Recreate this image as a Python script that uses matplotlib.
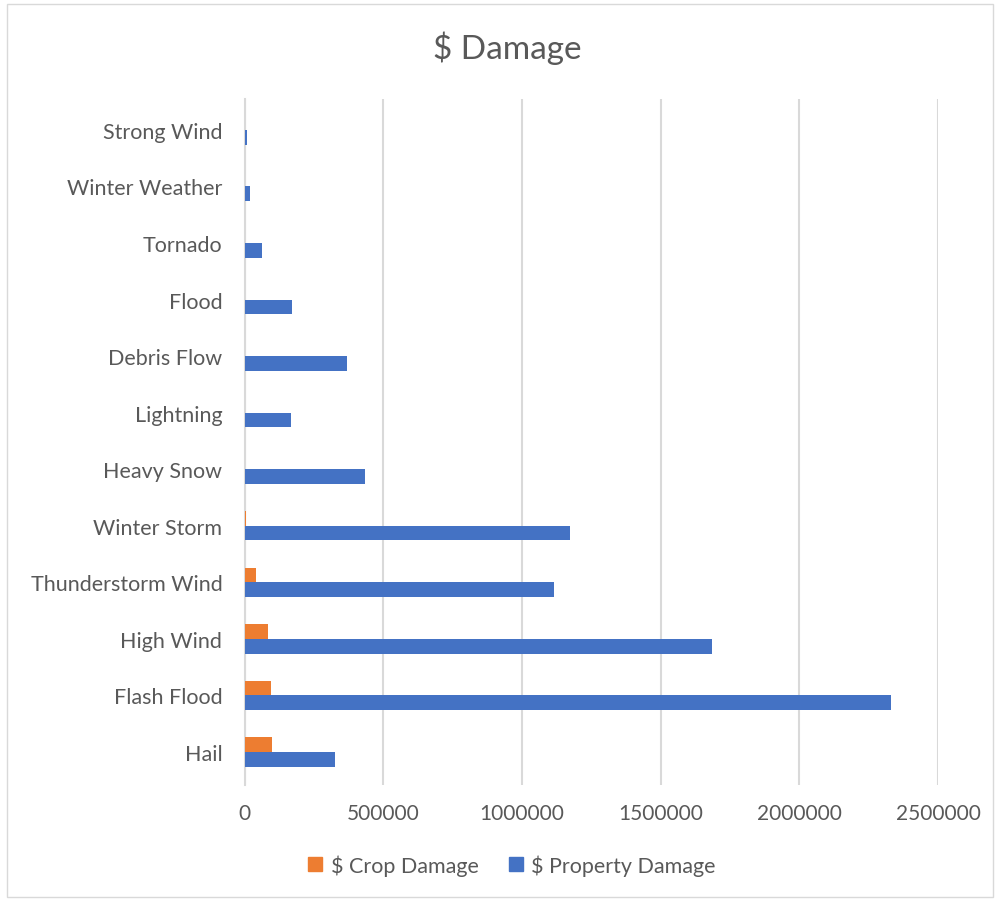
import matplotlib.pyplot as plt
import matplotlib.patches as mpatches
import numpy as np

# --- Data ---
CATEGORIES = [
    "Hail", "Flash Flood", "High Wind", "Thunderstorm Wind", "Winter Storm",
    "Heavy Snow", "Lightning", "Debris Flow", "Flood", "Tornado",
    "Winter Weather", "Strong Wind",
]
CROP_DAMAGE = [99000, 97000, 84000, 40000, 6000, 0, 0, 0, 0, 0, 0, 0]
PROPERTY_DAMAGE = [327000, 2330000, 1686000, 1116000, 1172000, 433000,
                   166000, 371000, 170000, 63000, 20000, 10000]
X_TICKS = [0, 500000, 1000000, 1500000, 2000000, 2500000]

ORANGE = "#ED7D31"
BLUE = "#4472C4"
TEXT = "#595959"
GRID = "#D9D9D9"

plt.rcParams["font.family"] = ["Lato", "DejaVu Sans"]

fig = plt.figure(figsize=(9.98, 9.03), dpi=100)
ax = fig.add_axes([0.245, 0.1296, 0.695, 0.7597])

y = np.arange(len(CATEGORIES))
h = 0.26
ax.barh(y + h / 2, CROP_DAMAGE, height=h, color=ORANGE, label="$ Crop Damage", zorder=3)
ax.barh(y - h / 2, PROPERTY_DAMAGE, height=h, color=BLUE, label="$ Property Damage", zorder=3)

ax.set_xlim(0, 2500000)
ax.set_ylim(-0.584, 11.548)
ax.set_xticks(X_TICKS)
ax.set_xticklabels([str(t) for t in X_TICKS])
ax.set_yticks(y)
ax.set_yticklabels(CATEGORIES)
ax.tick_params(axis="both", length=0, colors=TEXT)
ax.tick_params(axis="x", pad=13, labelsize=15)
ax.tick_params(axis="y", pad=16, labelsize=15.5)

ax.grid(axis="x", color=GRID, linewidth=1.5, zorder=0)
for s in ["top", "right", "bottom"]:
    ax.spines[s].set_visible(False)
ax.spines["left"].set_color(GRID)
ax.spines["left"].set_linewidth(1.5)

fig.text(0.508, 1 - 48 / 903, "$ Damage", ha="center", va="center", fontsize=24, color=TEXT)

handles = [mpatches.Patch(color=ORANGE, label="$ Crop Damage"),
           mpatches.Patch(color=BLUE, label="$ Property Damage")]
fig.legend(handles=handles, loc="center", bbox_to_anchor=(0.513, 1 - 866 / 903), ncol=2,
           frameon=False, fontsize=15.5, labelcolor=TEXT, handlelength=0.65, handleheight=0.65,
           handletextpad=0.4, columnspacing=1.4)

fig.patches.append(mpatches.Rectangle((7 / 998, 5 / 903), 986 / 998, 893 / 903,
                                      transform=fig.transFigure, fill=False,
                                      edgecolor=GRID, linewidth=1))

fig.savefig("out.png", dpi=100)
